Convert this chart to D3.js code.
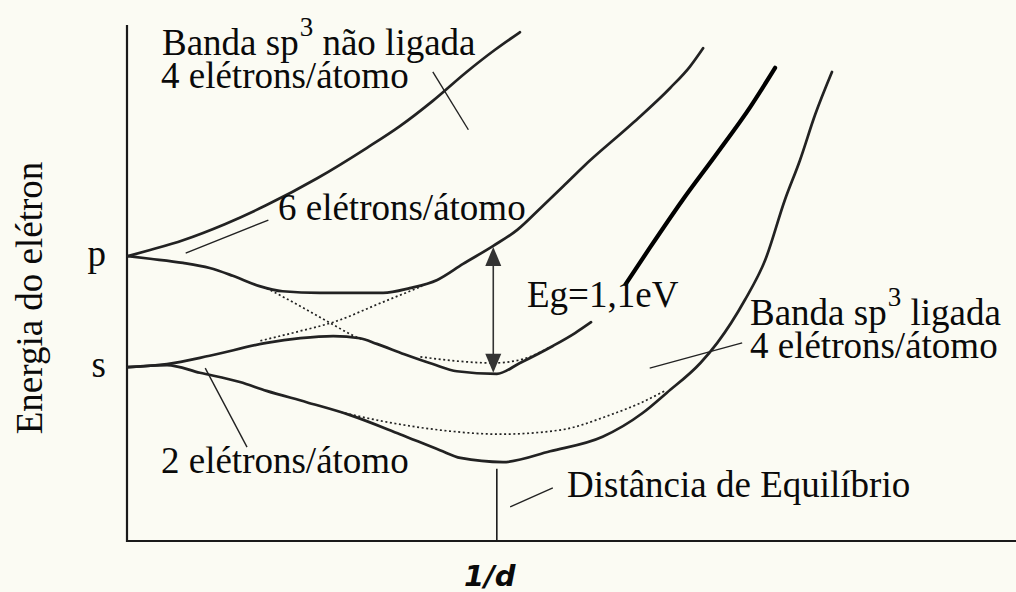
<!DOCTYPE html>
<html>
<head>
<meta charset="utf-8">
<script src="https://cdn.jsdelivr.net/npm/d3@7"></script>
<style>
  html, body { margin: 0; padding: 0; background: #fbfbf3; }
  svg { display: block; }
  text { font-family: "Liberation Serif", "Times New Roman", serif; fill: #0a0a0a; }
</style>
</head>
<body>
<svg id="chart" width="1016" height="592"></svg>
<script>
// Energy bands of silicon versus inverse interatomic distance (1/d), arbitrary units.
// Each series is a list of [1/d, energy] pairs.

const levelP = 55.2;          // atomic p level
const levelS = 33.7;          // atomic s level
const equilibriumX = 41.6;    // equilibrium 1/d
const gapX = 41.2;            // where the gap is marked

// upper edge of the antibonding sp3 band
const antibondTop = [[0.1,55.2],[2.6,56.4],[6.3,58.3],[11.0,61.4],[15.7,65.1],[21.4,70.3],[27.0,76.2],[30.7,80.4],[34.4,85.3],[38.2,90.9],[41.4,95.2],[44.2,98.6]];
// lower edge of the upper band (conduction band bottom)
const antibondBottom = [[0.1,55.2],[2.6,54.7],[6.3,53.9],[9.3,52.9],[11.9,51.4],[14.9,49.4],[17.5,48.4],[21.7,48.1],[28.8,48.1],[31.8,49.0],[34.9,50.6],[37.8,53.7],[41.2,57.2],[43.9,60.3],[46.5,64.5],[49.1,68.8],[51.3,72.5],[56.9,81.0],[61.1,87.8],[63.3,91.9],[64.8,95.5]];
// upper edge of the lower band (valence band top)
const bondTop = [[0.1,33.7],[4.5,34.3],[9.3,35.9],[15.7,38.4],[19.5,39.3],[23.2,39.7],[26.2,39.3],[28.1,38.2],[31.2,36.2],[34.4,34.3],[37.1,32.9],[41.6,32.4],[44.2,34.5],[47.9,37.8],[50.4,40.3],[52.2,42.4]];
// lower edge of the bonding sp3 band
const bondBottom = [[0.1,33.7],[4.5,34.1],[8.2,32.6],[12.7,30.8],[15.7,29.1],[20.2,26.9],[25.1,24.4],[30.7,20.7],[35.2,17.6],[37.5,16.1],[42.3,15.3],[47.6,17.4],[53.5,20.2],[58.0,24.8],[60.7,28.7],[64.5,34.5],[66.4,38.4],[69.5,46.7],[71.8,54.5],[74.0,66.1],[75.7,73.8],[77.4,82.6],[79.3,90.9]];
// heavy line rising to the right of the gap
const heavyEdge = [[56.1,49.8],[58.8,56.8],[62.5,66.1],[66.4,75.2],[70.1,84.1],[72.9,91.7]];

// dotted continuations of the unhybridised s and p levels
const dottedP = [[15.7,49.0],[19.5,45.5],[23.2,41.9],[25.1,40.1],[26.5,39.0]];
const dottedS = [[15.0,38.8],[19.5,40.7],[23.2,42.4],[28.5,46.1],[33.2,49.4]];
const dottedGap = [[33.0,35.7],[36.9,34.9],[41.2,34.5],[44.2,35.1],[47.6,37.6]];
const dottedLow = [[24.0,25.0],[28.5,23.3],[35.2,21.5],[42.0,20.7],[48.7,21.5],[54.3,24.4],[57.7,26.7],[60.5,29.1]];

// leader lines from labels to the bands
const leaders = [
  [[34.4,90.9],[38.4,79.7]],
  [[15.9,62.2],[6.6,55.8]],
  [[8.8,33.5],[13.5,18.2]],
  [[58.8,33.5],[69.2,38.4]],
  [[43.1,6.6],[47.9,10.3]]
];

const levelLabels = [["p", levelP], ["s", levelS]];
const axisTitleY = "Energia do elétron";
const axisTitleX = "1/d";
const gapLabel = "Eg=1,1eV";

const width = 1016, height = 592;
const x = d3.scaleLinear().domain([0, 100]).range([127, 1016]);
const y = d3.scaleLinear().domain([0, 100]).range([541, 25]);

const svg = d3.select("#chart");
svg.append("rect").attr("width", width).attr("height", height).attr("fill", "#fbfbf3");

const line = d3.line().x(d => x(d[0])).y(d => y(d[1])).curve(d3.curveMonotoneX);
const straight = d3.line().x(d => x(d[0])).y(d => y(d[1]));

// axes
svg.append("path")
  .attr("d", straight([[0,100],[0,0],[100,0]]))
  .attr("fill", "none").attr("stroke", "#1a1a1a").attr("stroke-width", 2.2);

// equilibrium marker
svg.append("path")
  .attr("d", straight([[equilibriumX, 14.0],[equilibriumX, 0]]))
  .attr("stroke", "#1a1a1a").attr("stroke-width", 1.6);

// band edges
[antibondTop, antibondBottom, bondTop, bondBottom].forEach(s => {
  svg.append("path").attr("d", line(s))
    .attr("fill", "none").attr("stroke", "#222").attr("stroke-width", 2.7)
    .attr("stroke-linejoin", "round").attr("stroke-linecap", "round");
});
svg.append("path").attr("d", line(heavyEdge))
  .attr("fill", "none").attr("stroke", "#000").attr("stroke-width", 4.2)
  .attr("stroke-linecap", "round");

// dotted guide curves
[dottedP, dottedS, dottedGap, dottedLow].forEach(s => {
  svg.append("path").attr("d", line(s))
    .attr("fill", "none").attr("stroke", "#222").attr("stroke-width", 1.7)
    .attr("stroke-dasharray", "2,2.6");
});

// leaders
leaders.forEach(s => {
  svg.append("path").attr("d", straight(s))
    .attr("stroke", "#222").attr("stroke-width", 1.4);
});

// band gap double arrow, spanning the two band edges at gapX
const gapTop = 57.0, gapBottom = 32.6;
const ax = x(gapX), ay1 = y(gapTop), ay2 = y(gapBottom);
const headL = 19, headW = 8;
svg.append("line").attr("x1", ax).attr("x2", ax).attr("y1", ay1 + headL - 2).attr("y2", ay2 - headL + 2)
  .attr("stroke", "#333").attr("stroke-width", 1.6);
svg.append("path")
  .attr("d", `M${ax},${ay1} L${ax - headW},${ay1 + headL} L${ax + headW},${ay1 + headL} Z`)
  .attr("fill", "#333");
svg.append("path")
  .attr("d", `M${ax},${ay2} L${ax - headW},${ay2 - headL} L${ax + headW},${ay2 - headL} Z`)
  .attr("fill", "#333");

// text
const fs = 37;
function label(tx, ty, str) {
  return svg.append("text").attr("x", tx).attr("y", ty).attr("font-size", fs).text(str);
}
function supLabel(tx, ty, before, sup, after) {
  const t = svg.append("text").attr("x", tx).attr("y", ty).attr("font-size", fs);
  t.append("tspan").text(before);
  t.append("tspan").attr("font-size", 27).attr("dy", -19).attr("dx", 1).text(sup);
  t.append("tspan").attr("dy", 19).text(after);
  return t;
}

supLabel(162, 55, "Banda sp", "3", " não ligada");
label(161, 88, "4 elétrons/átomo");
label(278, 220, "6 elétrons/átomo");
label(527, 307, gapLabel);
supLabel(750, 325, "Banda sp", "3", " ligada");
label(750, 358, "4 elétrons/átomo");
label(161, 473, "2 elétrons/átomo");
label(567, 497, "Distância de Equilíbrio");

levelLabels.forEach(([t, v]) => {
  svg.append("text").attr("x", 106).attr("y", y(v) + 10).attr("text-anchor", "end")
    .attr("font-size", fs).text(t);
});

svg.append("text")
  .attr("transform", "translate(42, 298) rotate(-90)")
  .attr("text-anchor", "middle").attr("font-size", fs).text(axisTitleY);

svg.append("text")
  .attr("x", x(equilibriumX) - 7).attr("y", 586).attr("text-anchor", "middle")
  .style("font-family", "'DejaVu Sans', sans-serif").style("font-style", "italic")
  .style("font-weight", "bold").attr("font-size", 29).text(axisTitleX);
</script>
</body>
</html>
